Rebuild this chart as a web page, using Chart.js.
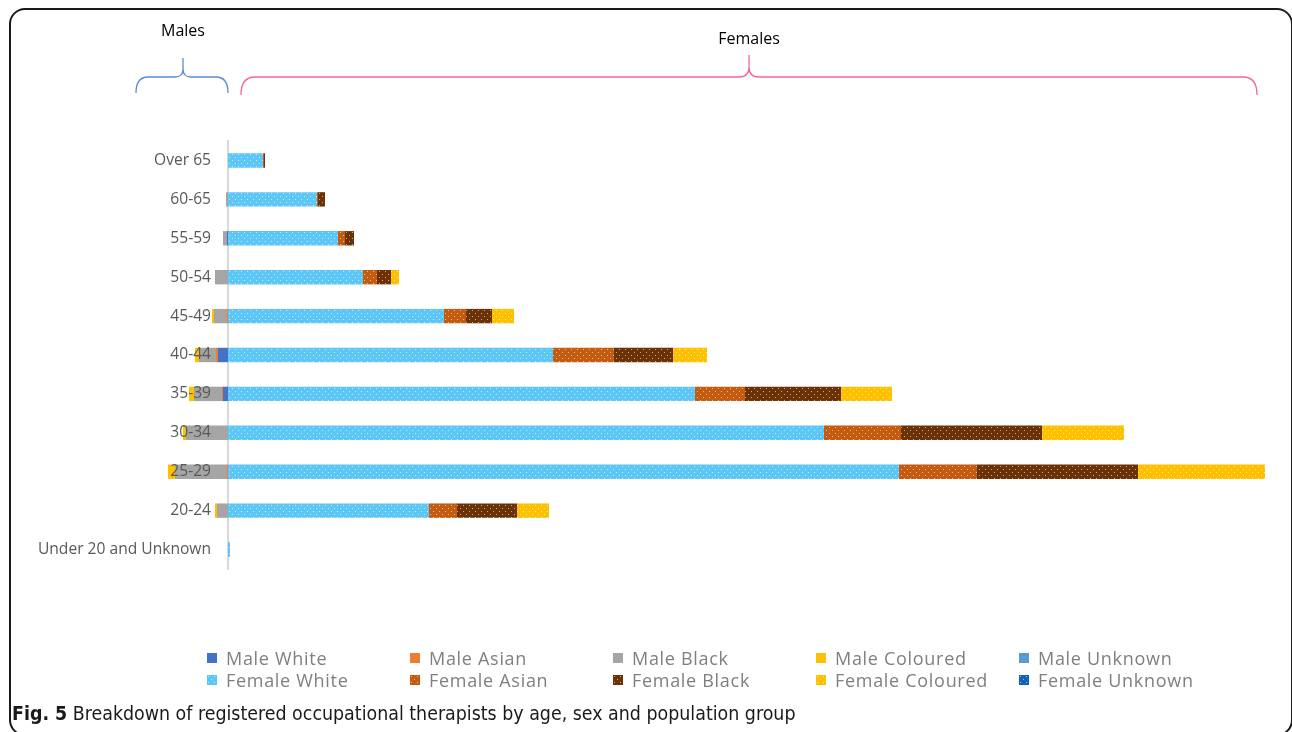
<!DOCTYPE html>
<html>
<head>
<meta charset="utf-8">
<script src="https://cdn.jsdelivr.net/npm/chart.js@4.4.1/dist/chart.umd.min.js"></script>
<style>
    body { margin: 0; background: #fff; width: 1292px; height: 732px; overflow: hidden; position: relative; font-family: "Open Sans", sans-serif; }
    #frame { position: absolute; left: 9px; top: 8px; width: 1284px; height: 728px; border: 2px solid #1a1a1a; border-radius: 16px; box-sizing: border-box; }
    #wrap { position: absolute; left: 0; top: 0; width: 1292px; height: 732px; }
    #legend { position: absolute; left: 207px; top: 647px; display: grid; grid-template-columns: repeat(5, 203px); }
    .item { display: flex; align-items: center; height: 22px; font-size: 18px; letter-spacing: 0.7px; color: #7f7f7f; white-space: nowrap; }
    .item canvas { width: 10px; height: 10px; margin-right: 9px; }
    #caption { position: absolute; left: 12px; top: 702px; font-family: "Liberation Sans Narrow", "DejaVu Sans Condensed", sans-serif; font-size: 19.4px; color: #1a1a1a; }
</style>
</head>
<body>
<div id="frame"></div>
<div id="wrap"><canvas id="chart"></canvas></div>
<div id="legend"></div>
<div id="caption"><b>Fig. 5</b> Breakdown of registered occupational therapists by age, sex and population group</div>
<script>
    // Categorias (de cima para baixo)
    const categories = ['Over 65', '60-65', '55-59', '50-54', '45-49', '40-44', '35-39', '30-34', '25-29', '20-24', 'Under 20 and Unknown'];

    // Homens (desenhados para a esquerda)
    const maleWhite    = [0, 0, 1, 0, 0, 10, 5, 0, 0, 0, 0];
    const maleAsian    = [0, 0, 0, 0, 1, 2, 1, 0, 1, 0, 0];
    const maleBlack    = [0, 2, 4, 13, 13, 17, 28, 42, 52, 11, 0];
    const maleColoured = [0, 0, 0, 0, 2, 4, 5, 3, 7, 2, 0];
    const maleUnknown  = [0, 0, 0, 0, 0, 0, 0, 0, 0, 0, 0];

    // Mulheres
    const femaleWhite    = [35, 89, 110, 135, 216, 325, 467, 596, 671, 201, 2];
    const femaleAsian    = [1, 1, 7, 14, 22, 61, 50, 77, 78, 28, 0];
    const femaleBlack    = [1, 7, 9, 14, 26, 59, 96, 141, 161, 60, 0];
    const femaleColoured = [0, 0, 0, 8, 22, 34, 51, 82, 127, 32, 0];
    const femaleUnknown  = [0, 0, 0, 0, 0, 0, 0, 0, 0, 0, 0];

    function dotted(base, dot) {
        const c = document.createElement('canvas');
        c.width = 6; c.height = 6;
        const g = c.getContext('2d');
        g.fillStyle = base;
        g.fillRect(0, 0, 6, 6);
        g.fillStyle = dot;
        g.fillRect(1, 1, 1, 1);
        g.fillRect(4, 4, 1, 1);
        return g.createPattern(c, 'repeat');
    }

    const neg = arr => arr.map(v => -v);

    function brace(ctx, x0, x1, xt, yEnd, yMid, yTop, r, rt) {
        ctx.beginPath();
        ctx.moveTo(x0, yEnd);
        ctx.quadraticCurveTo(x0, yMid, x0 + r, yMid);
        ctx.lineTo(xt - rt, yMid);
        ctx.quadraticCurveTo(xt, yMid, xt, yMid - rt);
        ctx.lineTo(xt, yTop);
        ctx.moveTo(xt, yMid - rt);
        ctx.quadraticCurveTo(xt, yMid, xt + rt, yMid);
        ctx.lineTo(x1 - r, yMid);
        ctx.quadraticCurveTo(x1, yMid, x1, yEnd);
        ctx.stroke();
    }

    const bracesPlugin = {
        id: 'braces',
        afterDraw(chart) {
            const ctx = chart.ctx;
            ctx.save();
            ctx.lineWidth = 1.3;
            ctx.strokeStyle = '#5b8bd6';
            brace(ctx, 136, 228, 183, 93, 77, 58, 12, 8);
            ctx.strokeStyle = '#f7629b';
            brace(ctx, 241, 1257, 749, 95, 77, 55, 14, 10);
            ctx.fillStyle = '#000';
            ctx.font = '16px "Open Sans"';
            ctx.textAlign = 'center';
            ctx.textBaseline = 'middle';
            ctx.fillText('Males', 183, 31);
            ctx.fillText('Females', 749, 39);
            ctx.restore();
        }
    };

    const ctx = document.getElementById('chart').getContext('2d');
    const chart = new Chart(ctx, {
        type: 'bar',
        data: {
            labels: categories,
            datasets: [
                { label: 'Male White', data: neg(maleWhite), backgroundColor: '#4472c4' },
                { label: 'Male Asian', data: neg(maleAsian), backgroundColor: '#ed7d31' },
                { label: 'Male Black', data: neg(maleBlack), backgroundColor: '#a5a5a5' },
                { label: 'Male Coloured', data: neg(maleColoured), backgroundColor: '#ffc000' },
                { label: 'Male Unknown', data: neg(maleUnknown), backgroundColor: '#5b9bd5' },
                { label: 'Female White', data: femaleWhite, backgroundColor: dotted('#5cc6f7', '#c2ecfd') },
                { label: 'Female Asian', data: femaleAsian, backgroundColor: dotted('#c55a11', '#f3bb8c') },
                { label: 'Female Black', data: femaleBlack, backgroundColor: dotted('#6b3208', '#d2a878') },
                { label: 'Female Coloured', data: femaleColoured, backgroundColor: dotted('#ffc000', '#ffe89a') },
                { label: 'Female Unknown', data: femaleUnknown, backgroundColor: dotted('#0f64b4', '#9cc8f0') }
            ]
        },
        options: {
            indexAxis: 'y',
            responsive: true,
            maintainAspectRatio: false,
            animation: false,
            layout: { padding: { left: 18, right: 24, top: 141, bottom: 163 } },
            // homens ficam à esquerda do zero, fora da área do gráfico
            datasets: { bar: { categoryPercentage: 1, barPercentage: 0.37, clip: false } },
            plugins: {
                legend: { display: false },
                tooltip: { enabled: false }
            },
            scales: {
                x: {
                    stacked: true,
                    min: 0,
                    max: 1040,
                    ticks: { display: false },
                    border: { display: false },
                    grid: { display: false, drawTicks: false }
                },
                y: {
                    stacked: true,
                    grid: { display: false, drawTicks: false },
                    border: { display: true, color: '#d9d9d9', width: 2 },
                    // rótulos por cima das barras dos homens
                    ticks: { z: 1, padding: 17, color: '#595959', font: { family: 'Open Sans', size: 15.6 } },
                    afterFit: axis => { axis.width = 210; }
                }
            }
        },
        plugins: [bracesPlugin]
    });

    // Legenda em HTML, 5 colunas
    const legendEl = document.getElementById('legend');
    Chart.defaults.plugins.legend.labels.generateLabels(chart).forEach(item => {
        const div = document.createElement('div');
        div.className = 'item';
        const sw = document.createElement('canvas');
        sw.width = 10; sw.height = 10;
        const g = sw.getContext('2d');
        g.fillStyle = item.fillStyle;
        g.fillRect(0, 0, 10, 10);
        div.appendChild(sw);
        div.appendChild(document.createTextNode(item.text));
        legendEl.appendChild(div);
    });
</script>
</body>
</html>
